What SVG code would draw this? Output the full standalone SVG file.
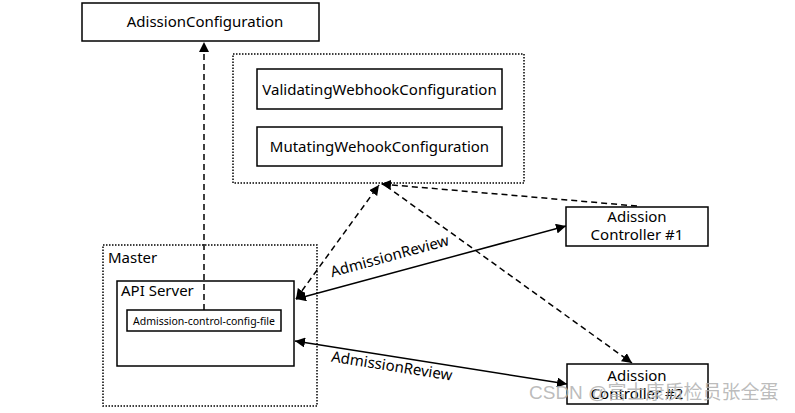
<svg xmlns="http://www.w3.org/2000/svg" width="795" height="413" viewBox="0 0 795 413">
<style>
.box{fill:#fff;stroke:#000;stroke-width:1.5}
.dot{fill:none;stroke:#000;stroke-width:1.5;stroke-dasharray:1.5 1.5}
.t{font-family:"Noto Sans","Open Sans",sans-serif;font-size:15px;fill:#000}
.dash{fill:none;stroke:#000;stroke-width:1.5;stroke-dasharray:6 4}
.solid{fill:none;stroke:#000;stroke-width:1.5}
</style>
<defs>
<marker id="ah" viewBox="0 0 10 10" refX="10" refY="5" markerWidth="10" markerHeight="10" markerUnits="userSpaceOnUse" orient="auto-start-reverse">
<path d="M0,0 L10,5 L0,10 z" fill="#000"/>
</marker>
</defs>
<rect width="795" height="413" fill="#fff"/>
<g id="webhook-group">
<rect class="dot" x="233" y="54" width="291" height="129"/>
</g>
<g id="master">
<rect class="dot" x="103" y="245" width="214" height="161"/>
<text class="t" x="108" y="263">Master</text>
</g>
<g id="api-server">
<rect class="box" x="117" y="281" width="177" height="85"/>
<text class="t" x="121" y="296">API Server</text>
</g>
<g id="connectors">
<line class="dash" x1="204" y1="310" x2="204" y2="42" marker-end="url(#ah)"/>
<line class="dash" x1="637" y1="206" x2="381" y2="184" marker-end="url(#ah)"/>
<line class="dash" x1="296" y1="299" x2="379" y2="185" marker-start="url(#ah)" marker-end="url(#ah)"/>
<line class="dash" x1="386" y1="186" x2="632" y2="363" marker-end="url(#ah)"/>
<line class="solid" x1="296" y1="299" x2="566" y2="226" marker-start="url(#ah)" marker-end="url(#ah)"/>
<line class="solid" x1="295" y1="341" x2="567" y2="384" marker-start="url(#ah)" marker-end="url(#ah)"/>
<text class="t" transform="translate(391,261) rotate(-15.3)" text-anchor="middle">AdmissionReview</text>
<text class="t" transform="translate(391,371) rotate(9)" text-anchor="middle">AdmissionReview</text>
</g>
<g id="config-file">
<rect class="box" x="127" y="310" width="154" height="21"/>
<text class="t" x="204" y="324.5" text-anchor="middle" style="font-size:10.5px">Admission-control-config-file</text>
</g>
<g id="adission-configuration">
<rect class="box" x="82" y="3" width="237" height="38"/>
<text class="t" x="205" y="27" text-anchor="middle">AdissionConfiguration</text>
</g>
<g id="validating">
<rect class="box" x="257" y="69" width="245" height="40"/>
<text class="t" x="379.5" y="94.5" text-anchor="middle">ValidatingWebhookConfiguration</text>
</g>
<g id="mutating">
<rect class="box" x="257" y="127" width="245" height="39"/>
<text class="t" x="379.5" y="152" text-anchor="middle">MutatingWehookConfiguration</text>
</g>
<g id="controller1">
<rect class="box" x="566" y="207" width="142" height="39"/>
<text class="t" x="637" y="222" text-anchor="middle">Adission</text>
<text class="t" x="637" y="240" text-anchor="middle">Controller #1</text>
</g>
<g id="controller2">
<rect class="box" x="567" y="364" width="141" height="40"/>
<text class="t" x="637" y="381" text-anchor="middle">Adission</text>
<text class="t" x="637" y="399" text-anchor="middle">Controller #2</text>
</g>
<text x="529" y="399" style="font-family:'Liberation Sans','Noto Sans CJK SC',sans-serif;font-size:19px;fill:#b0b0b0;fill-opacity:0.85">CSDN @富士康质检员张全蛋</text>
</svg>
